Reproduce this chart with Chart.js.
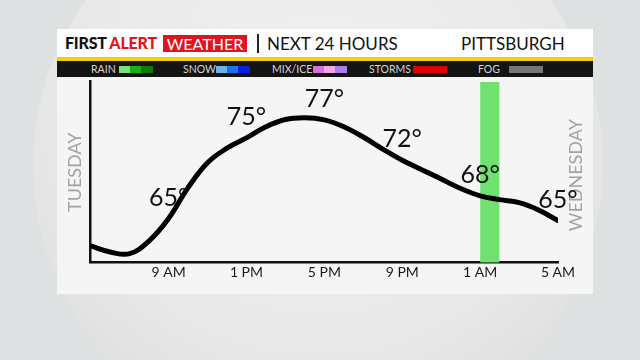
<!DOCTYPE html>
<html>
<head>
<meta charset="utf-8">
<script src="https://cdn.jsdelivr.net/npm/chart.js@4.4.1/dist/chart.umd.min.js"></script>
<style>
  body { margin: 0; width: 640px; height: 360px; overflow: hidden; position: relative;
         background: #dde1e2; font-family: Lato, "Open Sans", sans-serif; }
  .sphere { position: absolute; left: 33px; top: -120px; width: 570px; height: 570px; border-radius: 50%;
            background: radial-gradient(circle at 50% 38%, #f0f0f0 0%, #e9e9e9 55%, #dcdcdc 85%, #c3c3c3 100%); }
  .panel { position: absolute; left: 57px; top: 29px; width: 536px; height: 265px; background: #f5f5f5; }
  .head { position: absolute; left: 0; top: 0; width: 536px; height: 28px; background: #fff; }
  .yellow { position: absolute; left: 0; top: 28px; width: 536px; height: 4px; background: #f7cf00; }
  .band { position: absolute; left: 0; top: 32px; width: 536px; height: 16px; background: #141414; }
  .t { position: absolute; white-space: nowrap; }
  .first { left: 8px; top: 4px; font-size: 16px; font-weight: 900; color: #111; letter-spacing: -0.2px; }
  .first span { color: #e0141e; }
  .wx { left: 106px; top: 6px; height: 17px; width: 84px; background: #e0141e; color: #fff;
        font-size: 16px; line-height: 17px; text-align: center; }
  .sep { left: 200px; top: 5px; width: 1.5px; height: 19px; background: #222; }
  .next { left: 210px; top: 4px; font-size: 17px; color: #111; }
  .city { left: 404px; top: 4px; font-size: 17px; color: #111; }
  .lg { top: 32px; font-size: 10.5px; line-height: 16px; color: #d4d4d4; }
  .sw { position: absolute; top: 37px; height: 7px; width: 34px; }
  canvas { position: absolute; left: 57px; top: 77px; }
</style>
</head>
<body>
<div class="sphere"></div>
<div class="panel">
  <div class="head"></div>
  <div class="yellow"></div>
  <div class="band"></div>
  <div class="t first">FIRST <span>ALERT</span></div>
  <div class="t wx">WEATHER</div>
  <div class="t sep"></div>
  <div class="t next">NEXT 24 HOURS</div>
  <div class="t city">PITTSBURGH</div>
  <div class="t lg" style="left:34px">RAIN</div>
  <div class="sw" style="left:62px;background:linear-gradient(90deg,#7be07b 0 33%,#12b312 33% 66%,#0a7a0a 66%)"></div>
  <div class="t lg" style="left:126px">SNOW</div>
  <div class="sw" style="left:159px;background:linear-gradient(90deg,#6fb0e8 0 33%,#1a74e8 33% 66%,#0a1ee0 66%)"></div>
  <div class="t lg" style="left:215px">MIX/ICE</div>
  <div class="sw" style="left:256px;background:linear-gradient(90deg,#d86fe0 0 33%,#f2a8e8 33% 66%,#b07af0 66%)"></div>
  <div class="t lg" style="left:312px">STORMS</div>
  <div class="sw" style="left:356px;background:#e00000"></div>
  <div class="t lg" style="left:421px">FOG</div>
  <div class="sw" style="left:452px;background:#777"></div>
</div>
<canvas id="tempChart" width="536" height="217"></canvas>
<script>
const hours = [0, 1, 2, 3, 4, 5, 6, 7, 8, 9, 10, 11, 12, 13, 14, 15, 16, 17, 18, 19, 20, 21, 22, 23, 24];
const temps = [62.2, 61.5, 61.3, 62.8, 65.4, 69.0, 71.9, 73.6, 74.8, 76.1, 76.95, 77.15, 76.9,
               76.1, 74.9, 73.5, 72.2, 71.1, 70.0, 68.9, 68.05, 67.6, 67.25, 66.4, 65.15];
const tickLabels = ['', '9 AM', '1 PM', '5 PM', '9 PM', '1 AM', '5 AM'];
const labelHours = [4, 8, 12, 16, 20, 24];
const rainHours = [20, 21];
const yMin = 60.25;
const yMax = 81.35;

const FONT = 'Lato, "Open Sans", sans-serif';
Chart.defaults.font.family = FONT;

// day name on the right and the temperature labels
const overlay = {
  id: 'overlay',
  beforeDatasetsDraw(chart) {
    const ctx = chart.ctx;
    const xs = chart.scales.x, ys = chart.scales.y;
    ctx.save();
    ctx.translate(xs.getPixelForValue(24) + 18, (ys.top + ys.bottom) / 2 + 3);
    ctx.rotate(-Math.PI / 2);
    ctx.font = '18px ' + FONT;
    ctx.fillStyle = '#a3a3a3';
    ctx.textAlign = 'center';
    ctx.textBaseline = 'middle';
    ctx.fillText('WEDNESDAY', 0, 0);
    ctx.restore();
  },
  afterDatasetsDraw(chart) {
    const ctx = chart.ctx;
    const meta = chart.getDatasetMeta(0);
    ctx.save();
    ctx.font = '25px ' + FONT;
    ctx.fillStyle = '#111';
    ctx.textAlign = 'center';
    ctx.textBaseline = 'middle';
    labelHours.forEach(h => {
      const p = meta.data[h];
      ctx.fillText(Math.round(temps[h]) + '°', p.x, p.y - 21);
    });
    ctx.restore();
  }
};

const ctx = document.getElementById('tempChart').getContext('2d');
const tempChart = new Chart(ctx, {
  type: 'line',
  data: {
    datasets: [
      {
        label: 'Temperature',
        data: hours.map((h, i) => ({ x: h, y: temps[i] })),
        borderColor: '#000',
        borderWidth: 5,
        pointRadius: 0,
        tension: 0.4,
        borderCapStyle: 'round',
        borderJoinStyle: 'round',
        fill: false
      },
      {
        label: 'Rain',
        data: rainHours.map(h => ({ x: h, y: yMax })),
        borderWidth: 0,
        pointRadius: 0,
        backgroundColor: '#70e070',
        fill: 'start'
      }
    ]
  },
  options: {
    responsive: false,
    animation: false,
    layout: { padding: { top: 4.7, right: 35, left: 0, bottom: 0 } },
    plugins: {
      legend: { display: false },
      tooltip: { enabled: false }
    },
    scales: {
      x: {
        type: 'linear',
        min: 0,
        max: 24,
        afterFit: (axis) => { axis.height = 31.3; },
        grid: { display: false, drawTicks: false },
        border: { display: true, color: '#111', width: 2.5 },
        ticks: {
          stepSize: 4,
          padding: 1,
          color: '#1a1a1a',
          font: { size: 14 },
          maxRotation: 0,
          callback: (v) => tickLabels[v / 4]
        }
      },
      y: {
        min: yMin,
        max: yMax,
        afterFit: (axis) => { axis.width = 33.7; },
        grid: { display: false, drawTicks: false },
        border: { display: true, color: '#111', width: 2.5 },
        ticks: { display: false },
        title: {
          display: true,
          text: 'TUESDAY',
          color: '#a3a3a3',
          font: { size: 18 },
          padding: { top: 7, bottom: 0 }
        }
      }
    }
  },
  plugins: [overlay]
});
</script>
</body>
</html>
